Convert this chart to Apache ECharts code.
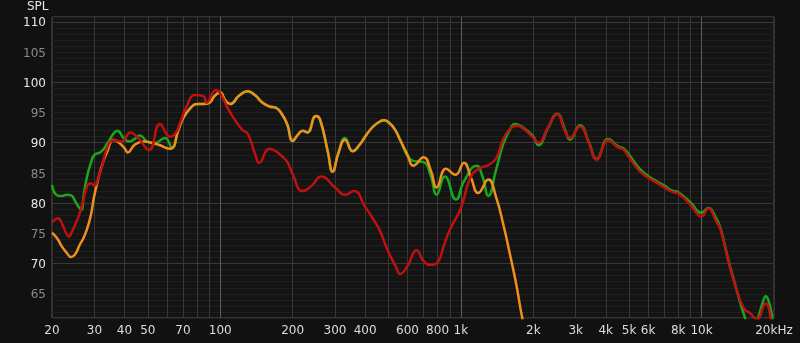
<!DOCTYPE html>
<html>
<head>
<meta charset="utf-8">
<script src="https://cdn.jsdelivr.net/npm/echarts@6/dist/echarts.min.js"></script>
<style>
html,body{margin:0;padding:0;background:#111111;}
#chart{width:800px;height:343px;}
</style>
</head>
<body>
<div id="chart"></div>
<script>
// ---- data (frequency in Hz, SPL in dB) ----
const orangeFreq = [20,21,22,23,24,25,26,27,28,29,30,32,34,36,38,40,41.3,44,48,55,62,67,70,75,80,85,90,95,100,105,110,120,130,140,150,160,170,180,190,200,210,220,230,250,260,280,293,310,330,355,380,400,430,460,480,500,530,560,600,634,700,750,793,867,950,1030,1100,1180,1300,1400,1500,1600,1700,1800,2000];
const orangeSPL  = [75.1,74.2,72.8,71.8,71.1,71.6,73.0,74.2,75.8,78.0,81.3,85.8,88.6,90.5,90.0,89.1,88.4,89.6,90.2,89.7,89.0,92.1,94.0,95.7,96.4,96.4,96.6,97.8,98.3,97.0,96.4,97.8,98.5,97.8,96.6,96.0,95.8,94.8,93.0,90.3,91.3,92.0,91.7,94.4,93.8,88.5,85.2,88.3,90.5,88.6,89.7,91.0,92.6,93.5,93.7,93.4,92.3,90.4,88.0,86.2,87.6,85.4,82.6,85.7,84.7,86.7,84.3,81.7,83.9,81.0,76.5,71.5,66.5,61.0,53.0];

const greenFreq = [20,21,22,23,24,25,26,26.6,27,28,29,30,32,34,36,37.3,40,42,44,46.3,50,53,59,63,67,70,75,80,85,90,95,100,105,110,120,130,140,150,160,170,180,190,200,210,220,230,250,260,280,293,310,330,355,380,400,430,460,480,500,530,560,600,634,700,750,793,858,954,1030,1162,1230,1300,1400,1500,1600,1680,1800,2000,2100,2300,2514,2700,2840,3124,3400,3664,4096,4500,4726,5000,5500,6000,6500,7000,7500,8000,9000,10000,10656,11500,12000,13000,14000,15000,16000,17000,18000,18500,19000,19500,20000];
const greenSPL  = [83.0,81.3,81.2,81.4,81.3,80.3,79.2,78.9,81.0,84.5,86.6,88.0,88.5,89.9,91.5,92.0,90.6,90.2,90.6,91.2,90.1,89.9,90.8,89.2,92.1,94.0,95.7,96.4,96.4,96.6,97.8,98.3,97.0,96.4,97.8,98.5,97.8,96.6,96.0,95.8,94.8,93.0,90.3,91.3,92.0,91.7,94.4,93.8,88.5,85.2,88.4,90.8,88.6,89.7,91.0,92.6,93.5,93.7,93.4,92.3,90.4,87.8,87.0,86.8,84.5,81.4,84.4,80.6,83.6,86.2,84.4,81.2,85.5,89.8,92.2,93.1,92.6,91.0,89.6,92.4,94.8,92.3,90.5,92.9,90.1,87.3,90.6,89.4,89.1,88.0,85.8,84.5,83.6,82.9,82.1,81.8,80.1,78.4,79.2,77.5,75.8,70.2,65.6,61.6,59.0,60.6,63.7,64.6,63.8,62.0,58.0];

const redFreq = [20,21.2,22,23,23.5,24,25,26,27,28,29,30,31,32,34,36,39,42.3,45.6,50.6,56.2,61.9,65.3,68,72.5,78.6,85.3,87.7,95.7,98,103,110,123,130,140,145,160,170,180,190,200,220,240,263,300,330,360,400,430,460,500,540,558,600,655,700,750,800,850,900,1000,1100,1200,1300,1400,1500,1600,1700,1800,2000,2100,2300,2514,2700,2840,3124,3400,3664,4096,4500,4726,5000,5500,6000,6500,7000,7500,8000,9000,10000,10656,11500,12000,13000,14000,15000,16000,17000,17500,18000,18500,19500,20000];
const redSPL  = [76.8,77.5,76.6,74.9,74.5,75.0,76.5,78.2,80.5,82.8,83.3,82.9,84.0,85.5,89.3,90.4,90.2,91.7,90.8,88.8,93.1,91.0,91.6,93.2,96.0,97.9,97.7,96.6,98.7,98.6,97.2,95.0,92.2,91.5,88.0,86.7,89.0,88.6,87.8,86.8,84.8,82.0,82.9,84.4,82.6,81.4,82.0,79.4,77.5,75.5,71.9,69.3,68.3,69.6,72.2,70.4,69.8,70.2,73.0,75.6,79.2,84.4,85.8,86.3,87.4,90.6,92.3,92.8,92.5,90.8,90.0,92.5,94.7,92.0,90.8,92.7,90.0,87.2,90.4,89.2,88.9,87.6,85.4,84.2,83.4,82.6,81.9,81.6,79.7,77.8,79.1,77.0,75.6,70.0,65.6,62.6,61.7,60.8,61.3,62.8,63.4,60.5,58.0];

// ---- axis ticks ----
const xLabelFreqs = [20,30,40,50,70,100,200,300,400,600,800,1000,2000,3000,4000,5000,6000,8000,10000,20000];
const xGridFreqs  = [30,40,50,60,70,80,90,200,300,400,500,600,700,800,900,2000,3000,4000,5000,6000,7000,8000,9000];
const xDecadeFreqs = [100,1000,10000];
const yLabels = [65,70,75,80,85,90,95,100,105,110];
const yMajor  = [70,80,90,100,110];

const L = Math.log10;
const toPts = (fs, vs) => fs.map((f, i) => [L(f), vs[i]]);
const FONT = 'DejaVu Sans';

function fmtFreq(v) {
  const f = Math.round(Math.pow(10, v));
  if (f >= 20000) return '20kHz';
  if (f >= 1000) return (f / 1000) + 'k';
  return String(f);
}

const xMin = L(20), xMax = L(20000);
const yMin = 61, yMax = 110.8;

const chart = echarts.init(document.getElementById('chart'), null, {renderer: 'canvas'});
chart.setOption({
  animation: false,
  backgroundColor: '#111111',
  title: {
    text: 'SPL', left: 27, top: 1, padding: 0,
    textStyle: {color: '#e6e6e6', fontSize: 12, fontWeight: 'normal', fontFamily: FONT}
  },
  grid: {left: 52, right: 26, top: 17, bottom: 25, show: true, backgroundColor: '#141414', borderColor: '#555555', borderWidth: 1},
  xAxis: [{
    type: 'value', min: xMin, max: xMax,
    axisLine: {show: false},
    axisTick: {show: false, customValues: xGridFreqs.map(L)},
    axisLabel: {
      customValues: xLabelFreqs.map(L), formatter: fmtFreq,
      color: '#dcdcdc', fontSize: 12, fontFamily: FONT, margin: 7
    },
    splitLine: {show: true, lineStyle: {color: '#383838', width: 1}}
  }, {
    type: 'value', min: xMin, max: xMax, position: 'top',
    axisLine: {show: false},
    axisTick: {show: false, customValues: xDecadeFreqs.map(L)},
    axisLabel: {show: false},
    splitLine: {show: true, lineStyle: {color: '#5c5c5c', width: 1}}
  }],
  yAxis: [{
    type: 'value', min: yMin, max: yMax, interval: 1,
    axisLine: {show: false},
    axisTick: {show: false},
    axisLabel: {
      customValues: yLabels,
      formatter: v => (v % 10 === 0 ? '{a|' + v + '}' : '{b|' + v + '}'),
      margin: 6,
      padding: [3, 0, 0, 0],
      rich: {
        a: {color: '#e6e6e6', fontSize: 12, fontFamily: FONT},
        b: {color: '#8a8a8a', fontSize: 12, fontFamily: FONT}
      }
    },
    splitLine: {show: true, lineStyle: {color: '#1f1f1f', width: 1}}
  }, {
    type: 'value', min: yMin, max: yMax, position: 'right',
    axisLine: {show: false},
    axisTick: {show: false, customValues: yMajor},
    axisLabel: {show: false},
    splitLine: {show: true, lineStyle: {color: '#383838', width: 1}}
  }],
  series: [
    {name: 'green', type: 'line', data: toPts(greenFreq, greenSPL), smooth: 0.5, showSymbol: false, symbol: 'none',
     lineStyle: {color: '#1aa81a', width: 2.5}, z: 3, clip: true},
    {name: 'orange', type: 'line', data: toPts(orangeFreq, orangeSPL), smooth: 0.5, showSymbol: false, symbol: 'none',
     lineStyle: {color: '#f0901c', width: 2.5}, z: 4, clip: true},
    {name: 'red', type: 'line', data: toPts(redFreq, redSPL), smooth: 0.5, showSymbol: false, symbol: 'none',
     lineStyle: {color: '#c01010', width: 2.5}, z: 5, clip: true}
  ]
});
</script>
</body>
</html>
